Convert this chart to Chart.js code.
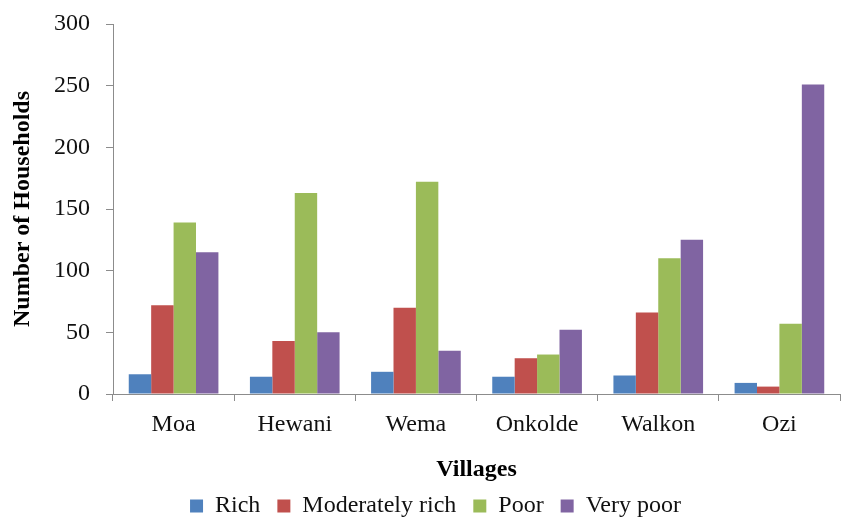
<!DOCTYPE html>
<html>
<head>
<meta charset="utf-8">
<script src="https://cdn.jsdelivr.net/npm/chart.js@4.4.1/dist/chart.umd.min.js"></script>
<style>
  body { margin: 0; background: #fff; }
</style>
</head>
<body>
<canvas id="myChart" width="841" height="530"></canvas>
<script>
// villages on the x axis
var villages = ["Moa", "Hewani", "Wema", "Onkolde", "Walkon", "Ozi"];

// households per wealth group
var rich = [16, 14, 18, 14, 15, 9];
var moderatelyRich = [72, 43, 70, 29, 66, 6];
var poor = [139, 163, 172, 32, 110, 57];
var veryPoor = [115, 50, 35, 52, 125, 251];

var groupNames = ["Rich", "Moderately rich", "Poor", "Very poor"];
var groupColors = ["#4F81BD", "#C0504D", "#9BBB59", "#8064A2"];

var yTicks = [0, 50, 100, 150, 200, 250, 300];

var serif = "'Liberation Serif', 'Times New Roman', serif";

var seriesData = [rich, moderatelyRich, poor, veryPoor];
var datasets = [];
for (var i = 0; i < seriesData.length; i++) {
  datasets.push({
    label: groupNames[i],
    data: seriesData[i],
    backgroundColor: groupColors[i],
    borderWidth: 0,
    categoryPercentage: 0.74,
    barPercentage: 1.0
  });
}

var ctx = document.getElementById("myChart");

var myChart = new Chart(ctx, {
  type: 'bar',
  data: {
    labels: villages,
    datasets: datasets
  },
  options: {
    responsive: false,
    animation: false,
    devicePixelRatio: 1,
    layout: {
      padding: { left: 31, right: 1, top: 24, bottom: 2 }
    },
    plugins: {
      tooltip: { enabled: false },
      legend: {
        position: 'bottom',
        labels: {
          boxWidth: 13,
          boxHeight: 13,
          padding: 17,
          color: '#111',
          font: { family: serif, size: 24 }
        }
      }
    },
    scales: {
      x: {
        afterFit: function(scale) { scale.height = 83; },
        grid: {
          drawOnChartArea: false,
          drawTicks: true,
          tickLength: 7,
          color: '#8c8c8c'
        },
        border: { color: '#8c8c8c', width: 1 },
        ticks: {
          color: '#111',
          padding: 9,
          maxRotation: 0,
          font: { family: serif, size: 24 }
        },
        title: {
          display: true,
          text: 'Villages',
          color: '#000',
          padding: { top: 0, bottom: -7 },
          font: { family: serif, size: 24, weight: 'bold' }
        }
      },
      y: {
        min: 0,
        max: 300,
        afterFit: function(scale) {
          scale.width = 82;
          // keep the tick padding from pushing the plot top down
          scale.paddingTop = 10;
          scale.paddingBottom = 10;
        },
        afterBuildTicks: function(scale) {
          scale.ticks = yTicks.map(function(v) { return { value: v }; });
        },
        grid: {
          drawOnChartArea: false,
          drawTicks: true,
          tickLength: 7,
          color: '#8c8c8c'
        },
        border: { color: '#8c8c8c', width: 1 },
        ticks: {
          color: '#111',
          padding: 16,
          font: { family: serif, size: 24 }
        },
        title: {
          display: true,
          text: 'Number of Households',
          color: '#000',
          padding: { top: -23, bottom: 0 },
          font: { family: serif, size: 24, weight: 'bold' }
        }
      }
    }
  }
});
</script>
</body>
</html>
